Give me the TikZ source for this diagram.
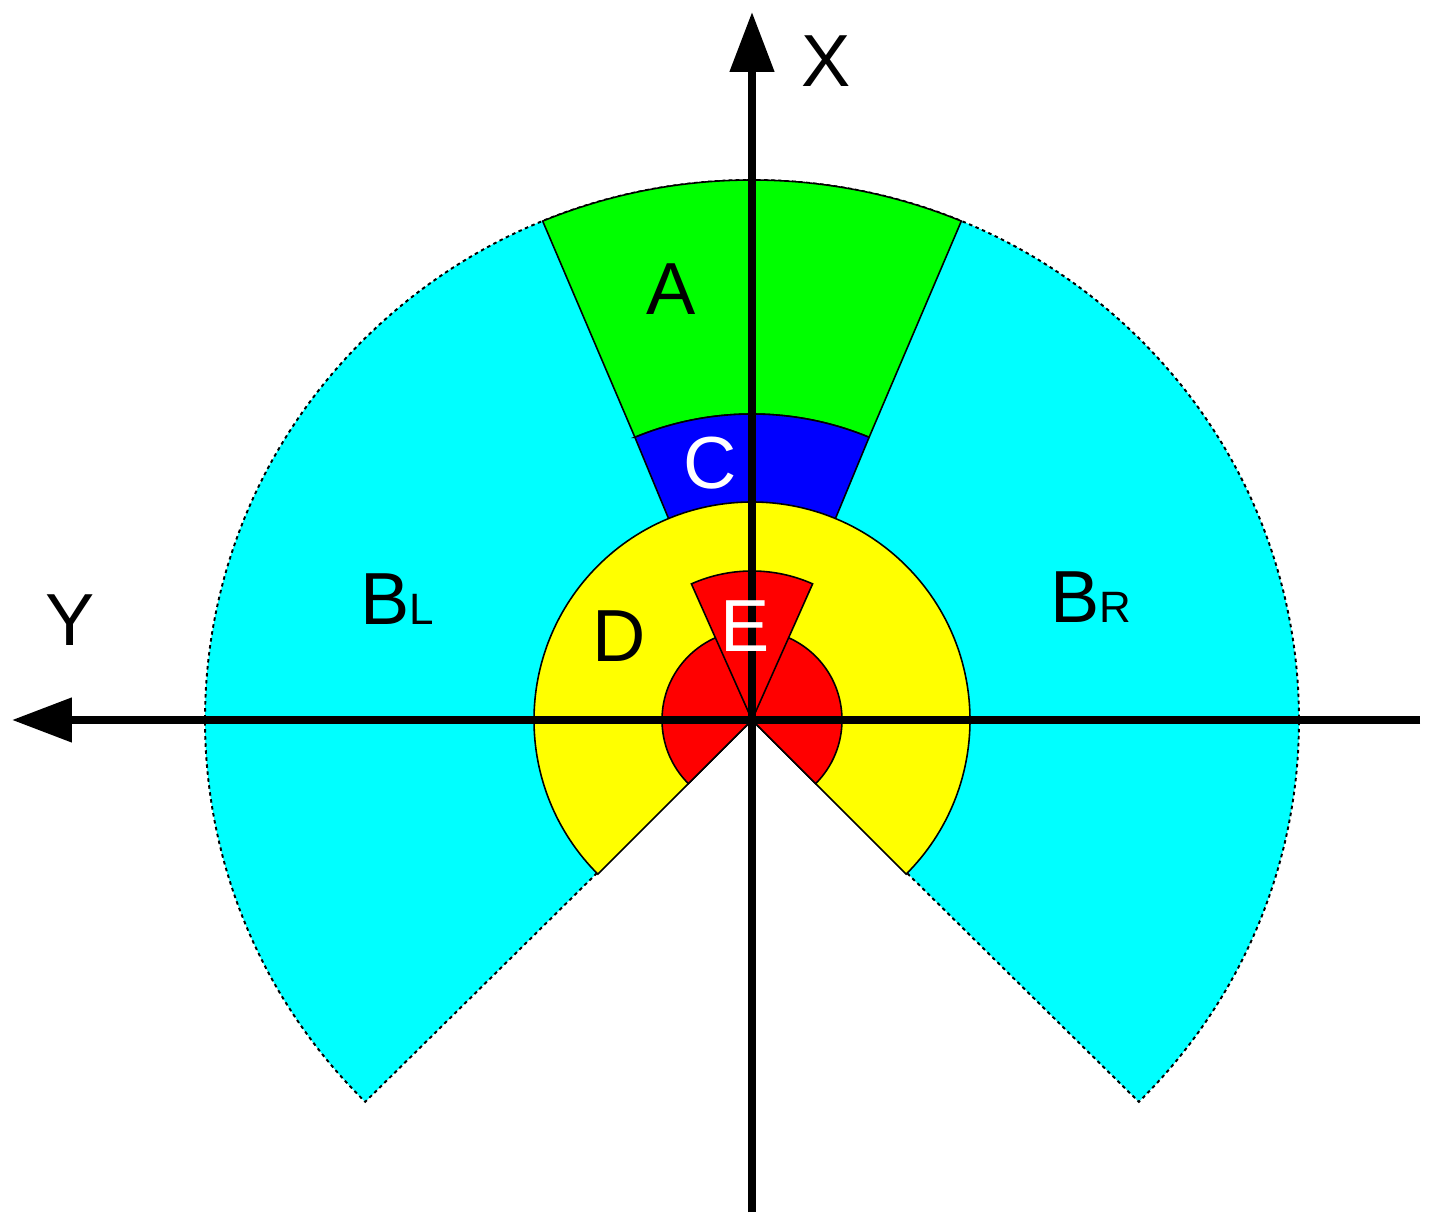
\documentclass[tikz,border=0pt]{standalone}
\usepackage{fontspec}
\setmainfont{Liberation Sans}
\usepackage{xcolor}
\usetikzlibrary{arrows.meta}
\definecolor{zonecyan}{RGB}{0, 255, 255}
\definecolor{zonegreen}{RGB}{0, 255, 0}
\definecolor{zoneblue}{RGB}{0, 0, 255}
\definecolor{zoneyellow}{RGB}{255, 255, 0}
\definecolor{zonered}{RGB}{255, 0, 0}
\newcommand{\biglabel}{\fontsize{21}{25}\selectfont}
\newcommand{\sublabel}{\fontsize{12.5}{15}\selectfont}

\begin{document}
\begin{tikzpicture}[
    zone/.style={draw=black, line width=0.45pt},
    axisline/.style={line width=0.08cm, -{Triangle[length=0.6cm, width=0.43cm]}},
    zonelabel/.style={inner sep=0pt, font=\biglabel}
]
    \useasboundingbox (-7.52,-5.08) rectangle (6.84,7.20);
    \coordinate (O) at (0,0);

    % B region (outer, dashed border)
    \draw[zone, fill=zonecyan, dash pattern=on 1pt off 1pt, line width=0.55pt]
        (O) -- (225:5.47 and 5.40)
        arc[start angle=225, end angle=-45, x radius=5.47, y radius=5.40] -- cycle;

    % A region
    \draw[zone, fill=zonegreen]
        (112.5:3.06) -- (112.5:5.47 and 5.40)
        arc[start angle=112.5, end angle=67.5, x radius=5.47, y radius=5.40]
        -- (67.5:3.06) arc[start angle=67.5, end angle=112.5, radius=3.06] -- cycle;

    % C region
    \draw[zone, fill=zoneblue]
        (112.5:2.17) -- (112.5:3.06) arc[start angle=112.5, end angle=67.5, radius=3.06]
        -- (67.5:2.17) arc[start angle=67.5, end angle=112.5, radius=2.17] -- cycle;

    % D region
    \draw[zone, fill=zoneyellow]
        (O) -- (225:2.18) arc[start angle=225, end angle=-45, radius=2.18] -- cycle;

    % inner red part and E wedge
    \draw[zone, fill=zonered]
        (O) -- (225:0.90) arc[start angle=225, end angle=-45, radius=0.90] -- cycle;
    \draw[zone, fill=zonered]
        (O) -- (114:1.49) arc[start angle=114, end angle=66, radius=1.49] -- cycle;

    % Axes
    \coordinate (yfrom) at (6.68,0);
    \coordinate (yto) at (-7.40,0);
    \coordinate (xfrom) at (0,-4.92);
    \coordinate (xto) at (0,7.08);
    \draw[axisline] (yfrom) -- (yto);
    \draw[axisline] (xfrom) -- (xto);
    \node[zonelabel] (xlabel) at (0.74,6.59) {X};
    \node[zonelabel] (ylabel) at (-6.82,1.00) {Y};

    % Region labels
    \node[zonelabel] (alabel) at (-0.81,4.31) {A};
    \node[zonelabel, white] (clabel) at (-0.42,2.57) {C};
    \node[zonelabel] (dlabel) at (-1.33,0.84) {D};
    \node[zonelabel, white] (elabel) at (-0.07,0.94) {E};
    \node[zonelabel, anchor=base west] (bllabel) at (-3.92,0.95) {B{\sublabel L}};
    \node[zonelabel, anchor=base west] (brlabel) at (2.98,0.97) {B{\sublabel R}};
\end{tikzpicture}
\end{document}
